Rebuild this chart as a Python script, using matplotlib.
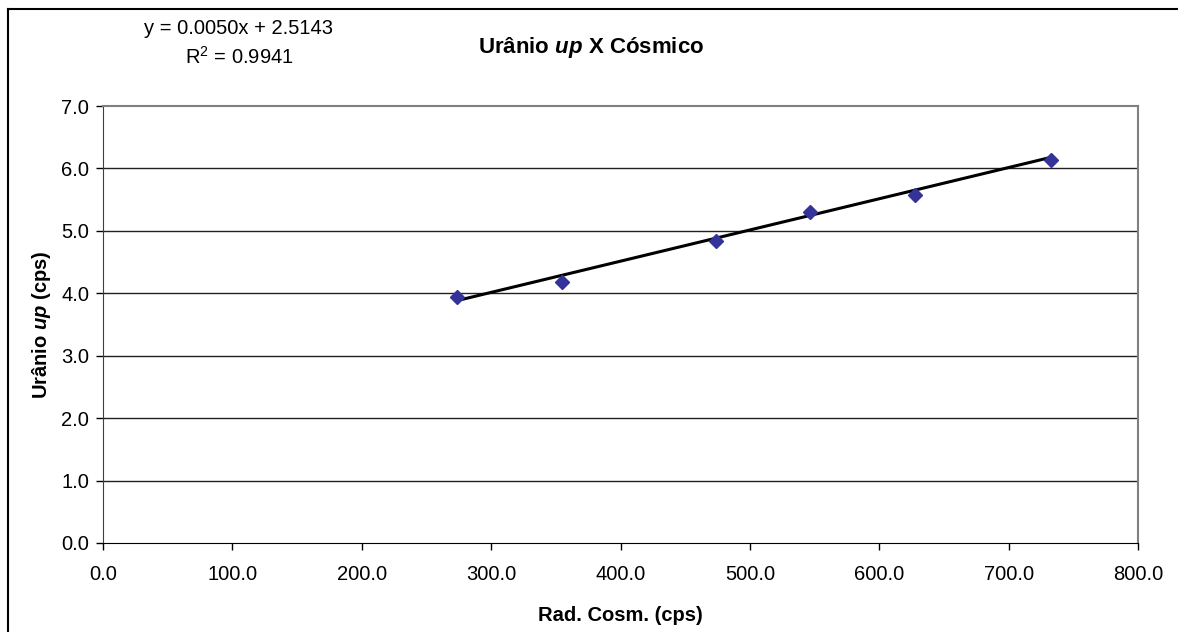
#!/usr/bin/env python

import numpy as np
import matplotlib.pyplot as plt
from matplotlib.lines import Line2D

plt.rcParams['font.family'] = ['Liberation Sans', 'DejaVu Sans']
plt.rcParams['mathtext.fontset'] = 'custom'
plt.rcParams['mathtext.rm'] = 'Liberation Sans'
plt.rcParams['mathtext.it'] = 'Liberation Sans:bold:italic'
plt.rcParams['mathtext.bf'] = 'Liberation Sans:bold'

# cosmic radiation vs uranium up
rad_cosm = [273.8, 355.0, 473.7, 546.4, 627.5, 732.4]
uranio_up = [3.94, 4.18, 4.83, 5.31, 5.57, 6.13]
slope = 0.0050
intercept = 2.5143
r2 = 0.9941

xticks = np.arange(0, 801, 100)
yticks = np.arange(0, 7.01, 1.0)

fig = plt.figure(figsize=(11.78, 6.32), dpi=100)
ax = fig.add_axes([103/1178, 1 - 543/632, (1138-103)/1178, (543-106)/632])

for yv in yticks[1:-1]:
    ax.axhline(yv, color='#202020', lw=1.0, zorder=1)

xs = np.array([min(rad_cosm), max(rad_cosm)])
ax.plot(xs, slope*xs + intercept, color='black', lw=2.2, zorder=2)
ax.plot(rad_cosm, uranio_up, linestyle='none', marker='D', ms=7,
        color='#333399', zorder=3)

ax.set_xlim(0, 800)
ax.set_ylim(0, 7)
ax.set_xticks(xticks)
ax.set_xticklabels(["%.1f" % v for v in xticks])
ax.set_yticks(yticks)
ax.set_yticklabels(["%.1f" % v for v in yticks])
ax.tick_params(labelsize=14.5, length=5, width=1, direction='out', pad=5)
ax.tick_params(axis='x', pad=11)
for s in ['top', 'right']:
    ax.spines[s].set_color('#808080')
    ax.spines[s].set_linewidth(1.5)
ax.spines['bottom'].set_color('black')
ax.spines['left'].set_color('#404040')

ax.set_xlabel("Rad. Cosm. (cps)", fontsize=14.5, fontweight='bold', labelpad=16)
ax.set_ylabel(r"Urânio $\it{up}$ (cps)", fontsize=14.5, fontweight='bold', labelpad=6)

fig.text(591/1178, 1 - 47/632, r"Urânio $\it{up}$ X Cósmico", fontsize=16,
         fontweight='bold', ha='center', va='center')
fig.text(239/1178, 1 - 28/632, "y = %.4fx + %.4f" % (slope, intercept),
         fontsize=14.5, ha='center', va='center')
fig.text(239/1178, 1 - 57/632, r"R$^2$ = %.4f" % r2,
         fontsize=14.5, ha='center', va='center')

# outer chart frame (left and top only visible)
fig.add_artist(Line2D([8/1178, 8/1178], [0, 1 - 9/632], transform=fig.transFigure,
                      color='black', lw=1.5))
fig.add_artist(Line2D([8/1178, 1], [1 - 9/632, 1 - 9/632], transform=fig.transFigure,
                      color='black', lw=1.5))

plt.savefig("out.png", dpi=100)
